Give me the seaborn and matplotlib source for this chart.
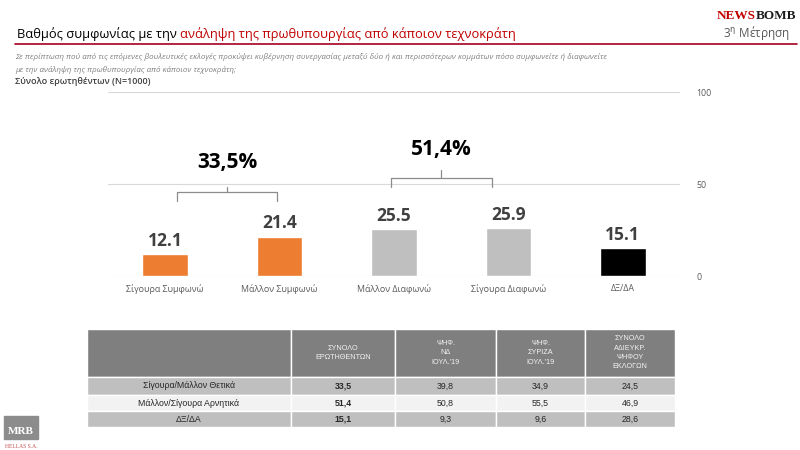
import matplotlib
matplotlib.use("Agg")
import matplotlib.pyplot as plt
import seaborn as sns
import pandas as pd
from matplotlib.lines import Line2D
from matplotlib.patches import Rectangle

# chart data
categories = ["Σίγουρα Συμφωνώ", "Μάλλον Συμφωνώ", "Μάλλον Διαφωνώ", "Σίγουρα Διαφωνώ", "ΔΞ/ΔΑ"]
values = [12.1, 21.4, 25.5, 25.9, 15.1]
bar_colors = ["#ed7d31", "#ed7d31", "#bfbfbf", "#bfbfbf", "#000000"]
y_ticks = [0, 50, 100]

# table data
row_labels = ["Σίγουρα/Μάλλον Θετικά", "Μάλλον/Σίγουρα Αρνητικά", "ΔΞ/ΔΑ"]
col_headers = ["ΣΥΝΟΛΟ\nΕΡΩΤΗΘΕΝΤΩΝ", "ΨΗΦ.\nΝΔ\nΙΟΥΛ.'19",
               "ΨΗΦ.\nΣΥΡΙΖΑ\nΙΟΥΛ.'19", "ΣΥΝΟΛΟ\nΑΔΙΕΥΚΡ.\nΨΗΦΟΥ\nΕΚΛΟΓΩΝ"]
total = [33.5, 51.4, 15.1]
nd_voters = [39.8, 50.8, 9.3]
syriza_voters = [34.9, 55.5, 9.6]
undecided_voters = [24.5, 46.9, 28.6]

sns.set_theme(style="white")
plt.rcParams['font.family'] = ['Open Sans', 'DejaVu Sans']

df = pd.DataFrame({"cat": categories, "val": values})

fig = plt.figure(figsize=(8, 4.5), dpi=100)
ax = fig.add_axes([108 / 800, 1 - 276 / 450, 572 / 800, 184 / 450])

sns.barplot(data=df, x="cat", y="val", hue="cat", palette=bar_colors,
            width=0.4, legend=False, ax=ax, saturation=1)
ax.set_ylim(0, 100)
ax.set_xlim(-0.5, len(categories) - 0.5)
ax.set_yticks(y_ticks)
ax.yaxis.tick_right()
ax.grid(axis="y", color="#d9d9d9", lw=0.8)
ax.set_axisbelow(True)
ax.tick_params(axis="y", length=0, pad=12, labelsize=6.3, labelcolor="#595959")
ax.tick_params(axis="x", length=0, pad=6, labelsize=6.4, labelcolor="#595959")
ax.set_xlabel("")
ax.set_ylabel("")
for s in ax.spines.values():
    s.set_visible(False)

for cont in ax.containers:
    ax.bar_label(cont, fmt="%.1f", padding=3, fontsize=12.5,
                 fontweight="bold", color="#404040")

# brackets for the two groups
brackets = [
    (0.10, 0.98, 45.4, 40.6, 48.6, 61.5, sum(values[0:2])),
    (1.97, 2.86, 53.0, 48.6, 57.4, 68.8, sum(values[2:4])),
]
for x0, x1, yh, ye, yn, yt, tot in brackets:
    xm = (x0 + x1) / 2
    ax.plot([x0, x0, x1, x1], [ye, yh, yh, ye], color="#8c8c8c", lw=0.9)
    ax.plot([xm, xm], [yh, yn], color="#8c8c8c", lw=0.9)
    ax.text(xm, yt, f"{tot:.1f}%".replace(".", ","), ha="center", va="center",
            fontsize=15, fontweight="bold", color="black")

# header texts
t1 = fig.text(17 / 800, 1 - 38 / 450, "Βαθμός συμφωνίας με την ",
              fontsize=9.3, color="black", va="baseline")
fig.axes[0].annotate("ανάληψη της πρωθυπουργίας από κάποιον τεχνοκράτη",
                     xy=(1, 0), xycoords=t1, va="bottom", ha="left",
                     fontsize=9.3, color="#c00000")
fig.add_artist(Line2D([15 / 800, 797 / 800], [1 - 44 / 450] * 2,
                      color="#a50021", lw=1.2))

fig.text(15 / 800, 1 - 57 / 450,
         "Σε περίπτωση πού από τις επόμενες βουλευτικές εκλογές προκύψει κυβέρνηση "
         "συνεργασίας μεταξύ δύο ή και περισσότερων κομμάτων πόσο συμφωνείτε ή διαφωνείτε",
         fontsize=5.8, style="italic", color="#7f7f7f", va="center")
fig.text(15 / 800, 1 - 70 / 450,
         "με την ανάληψη της πρωθυπουργίας από κάποιον τεχνοκράτη;",
         fontsize=5.8, style="italic", color="#7f7f7f", va="center")
fig.text(15 / 800, 1 - 81 / 450, "Σύνολο ερωτηθέντων (N=1000)",
         fontsize=6.5, fontweight="semibold", color="#404040", va="center")

# newsbomb logo
tb = fig.text(796 / 800, 1 - 19 / 450, "BOMB", ha="right", va="baseline",
              fontsize=9.5, fontweight="bold", family="Liberation Serif", color="#1a1a1a")
fig.axes[0].annotate("NEWS", xy=(0, 0), xycoords=tb, ha="right", va="bottom",
                     fontsize=9.5, fontweight="bold", family="Liberation Serif",
                     color="#c00000")
fig.text(790 / 800, 1 - 33 / 450, "3$^{\\mathrm{η}}$ Μέτρηση", ha="right", va="center",
         fontsize=8.5, color="#595959")

# MRB logo
fig.add_artist(Rectangle((4 / 800, 1 - 439 / 450), 34 / 800, 23 / 450,
                         transform=fig.transFigure, color="#8c8c8c"))
fig.text(21 / 800, 1 - 431 / 450, "MRB", ha="center", va="center", fontsize=8,
         family="Liberation Serif", fontweight="bold", color="white")
fig.text(21 / 800, 1 - 446 / 450, "HELLAS S.A.", ha="center", va="center",
         fontsize=4, family="Liberation Serif", color="#c0504d")

# table
tab_ax = fig.add_axes([87 / 800, 1 - 427 / 450, 588 / 800, 98 / 450])
tab_ax.axis("off")
fmt = lambda v: f"{v:.1f}".replace(".", ",")
cell_text = [[""] + col_headers]
for i, lab in enumerate(row_labels):
    cell_text.append([lab, fmt(total[i]), fmt(nd_voters[i]),
                      fmt(syriza_voters[i]), fmt(undecided_voters[i])])
row_bg = ["#7f7f7f", "#bfbfbf", "#f2f2f2", "#bfbfbf"]
cell_colours = [[c] * 5 for c in row_bg]
col_w = [204, 104, 101, 89, 90]
tbl = tab_ax.table(cellText=cell_text, cellColours=cell_colours,
                   colWidths=[w / sum(col_w) for w in col_w],
                   cellLoc="center", bbox=[0, 0, 1, 1])
tbl.auto_set_font_size(False)
row_h = [48, 19, 16, 16]
for (r, c), cell in tbl.get_celld().items():
    cell.set_edgecolor("white")
    cell.set_linewidth(1)
    cell.set_height(row_h[r])
    txt = cell.get_text()
    txt.set_family(["Liberation Sans", "DejaVu Sans"])
    if r == 0:
        txt.set_fontsize(5.2)
        txt.set_color("#f2f2f2")
        txt.set_linespacing(1.45)
    else:
        txt.set_fontsize(6.3)
        txt.set_color("#262626")
        if c == 1:
            txt.set_fontweight("bold")

fig.savefig("out.png", dpi=100)
